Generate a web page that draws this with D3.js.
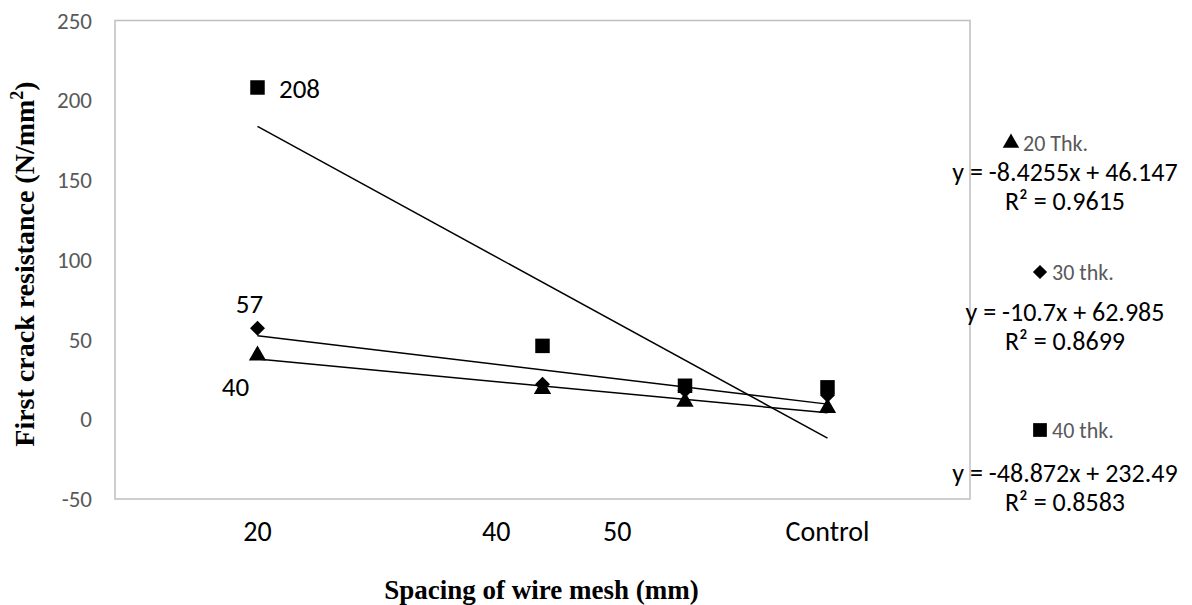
<!DOCTYPE html>
<html>
<head>
<meta charset="utf-8">
<script src="https://cdn.jsdelivr.net/npm/d3@7"></script>
<style>
  body { margin: 0; background: #fff; }
  svg { display: block; }
</style>
</head>
<body>
<svg width="1192" height="605"></svg>
<script>
// data
let seriesNames = ["20 Thk.", "30 thk.", "40 thk."];
let xPos = [1, 3, 4, 5];                       // where the points sit on the x scale
let thk20 = [40, 19, 11, 7];
let thk30 = [57, 22, 18, 15];
let thk40 = [208, 46, 21, 20];
let slopes = [-8.4255, -10.7, -48.872];
let intercepts = [46.147, 62.985, 232.49];
let r2 = ["0.9615", "0.8699", "0.8583"];
let xTickLabels = ["20", "40", "50", "Control"];
let xTickPos = [1, 2.675, 3.525, 5];           // labels are not aligned with the points
let yTicks = [-50, 0, 50, 100, 150, 200, 250];
let pointLabels = [{s: 0, i: 0, text: "40"}, {s: 1, i: 0, text: "57"}, {s: 2, i: 0, text: "208"}];

let series = [thk20, thk30, thk40];
let symbols = [d3.symbolTriangle, d3.symbolSquare, d3.symbolSquare];
let symSize = [130, 112, 210];
let symRot = [0, 45, 0];

let margin = {top: 20.5, left: 115, right: 222, bottom: 106};
let width = 1192 - margin.left - margin.right;
let height = 605 - margin.top - margin.bottom;
let font = "Carlito, Calibri, 'Open Sans', sans-serif";
let serif = "'Liberation Serif', 'Times New Roman', serif";

var svg = d3.select("svg");
var g = svg.append("g").attr("transform", "translate(" + margin.left + "," + margin.top + ")");

var x = d3.scaleLinear().domain([0, 6]).range([0, width]);
var y = d3.scaleLinear().domain([-50, 250]).range([height, 0]);

// plot border
g.append("rect")
  .attr("width", width).attr("height", height)
  .attr("fill", "none").attr("stroke", "#bfbfbf").attr("stroke-width", 1.5);

// y tick labels
g.selectAll("text.ytick").data(yTicks).enter().append("text")
  .attr("class", "ytick")
  .attr("x", -23).attr("y", d => y(d)).attr("dy", "0.35em")
  .attr("text-anchor", "end")
  .attr("font-family", font).attr("font-size", 23).attr("fill", "#595959")
  .text(d => d);

// x tick labels
g.selectAll("text.xtick").data(xTickLabels).enter().append("text")
  .attr("class", "xtick")
  .attr("x", (d, i) => x(xTickPos[i])).attr("y", height + 42)
  .attr("text-anchor", "middle")
  .attr("font-family", font).attr("font-size", 28).attr("fill", "#000")
  .text(d => d);

// trend lines
let line = d3.line().x(d => x(d[0])).y(d => y(d[1]));
slopes.forEach(function(m, k) {
  let x0 = d3.min(xPos), x1 = d3.max(xPos);
  g.append("path")
    .datum([[x0, m * x0 + intercepts[k]], [x1, m * x1 + intercepts[k]]])
    .attr("fill", "none").attr("stroke", "#000").attr("stroke-width", 1.5)
    .attr("d", line);
});

// markers
series.forEach(function(vals, k) {
  g.selectAll("path.m" + k).data(vals).enter().append("path")
    .attr("class", "m" + k)
    .attr("d", d3.symbol().type(symbols[k]).size(symSize[k]))
    .attr("transform", (d, i) => "translate(" + x(xPos[i]) + "," + y(d) + ") rotate(" + symRot[k] + ")")
    .attr("fill", "#000");
});

// data labels
let labelOff = [[-22, 31], [-8, -25], [42, 1]];
g.selectAll("text.dl").data(pointLabels).enter().append("text")
  .attr("class", "dl")
  .attr("x", d => x(xPos[d.i]) + labelOff[d.s][0])
  .attr("y", d => y(series[d.s][d.i]) + labelOff[d.s][1])
  .attr("dy", "0.35em").attr("text-anchor", "middle")
  .attr("font-family", font).attr("font-size", 27).attr("fill", "#000")
  .text(d => d.text);

// legend + equations on the right
let legendY = [143, 272, 430];
let legendX = [1011, 1040, 1040];
let eqY = [172, 312, 473];
let leg = svg.append("g");
seriesNames.forEach(function(name, k) {
  let ly = legendY[k];
  leg.append("path")
    .attr("d", d3.symbol().type(symbols[k]).size(symSize[k] * 0.9))
    .attr("transform", "translate(" + legendX[k] + "," + ly + ") rotate(" + symRot[k] + ")")
    .attr("fill", "#000");
  leg.append("text")
    .attr("x", legendX[k] + 12).attr("y", ly).attr("dy", "0.35em")
    .attr("font-family", font).attr("font-size", 22).attr("fill", "#595959")
    .text(name);
  let eq = "y = " + slopes[k] + "x + " + intercepts[k];
  leg.append("text")
    .attr("x", 1065).attr("y", eqY[k]).attr("dy", "0.35em")
    .attr("text-anchor", "middle")
    .attr("font-family", font).attr("font-size", 26).attr("fill", "#000")
    .text(eq);
  leg.append("text")
    .attr("x", 1065).attr("y", eqY[k] + 29).attr("dy", "0.35em")
    .attr("text-anchor", "middle")
    .attr("font-family", font).attr("font-size", 26).attr("fill", "#000")
    .text("R² = " + r2[k]);
});

// axis titles
svg.append("text")
  .attr("x", margin.left + width / 2 - 1).attr("y", 599)
  .attr("text-anchor", "middle")
  .attr("font-family", serif)
  .attr("font-weight", "bold").attr("font-size", 27)
  .text("Spacing of wire mesh (mm)");

let yt = svg.append("text")
  .attr("transform", "translate(34," + 264 + ") rotate(-90)")
  .attr("text-anchor", "middle")
  .attr("font-family", serif)
  .attr("font-weight", "bold").attr("font-size", 28);
yt.append("tspan").text("First crack resistance (N/mm");
yt.append("tspan").attr("dy", -11).attr("font-size", 18).text("2");
yt.append("tspan").attr("dy", 11).text(")");
</script>
</body>
</html>
